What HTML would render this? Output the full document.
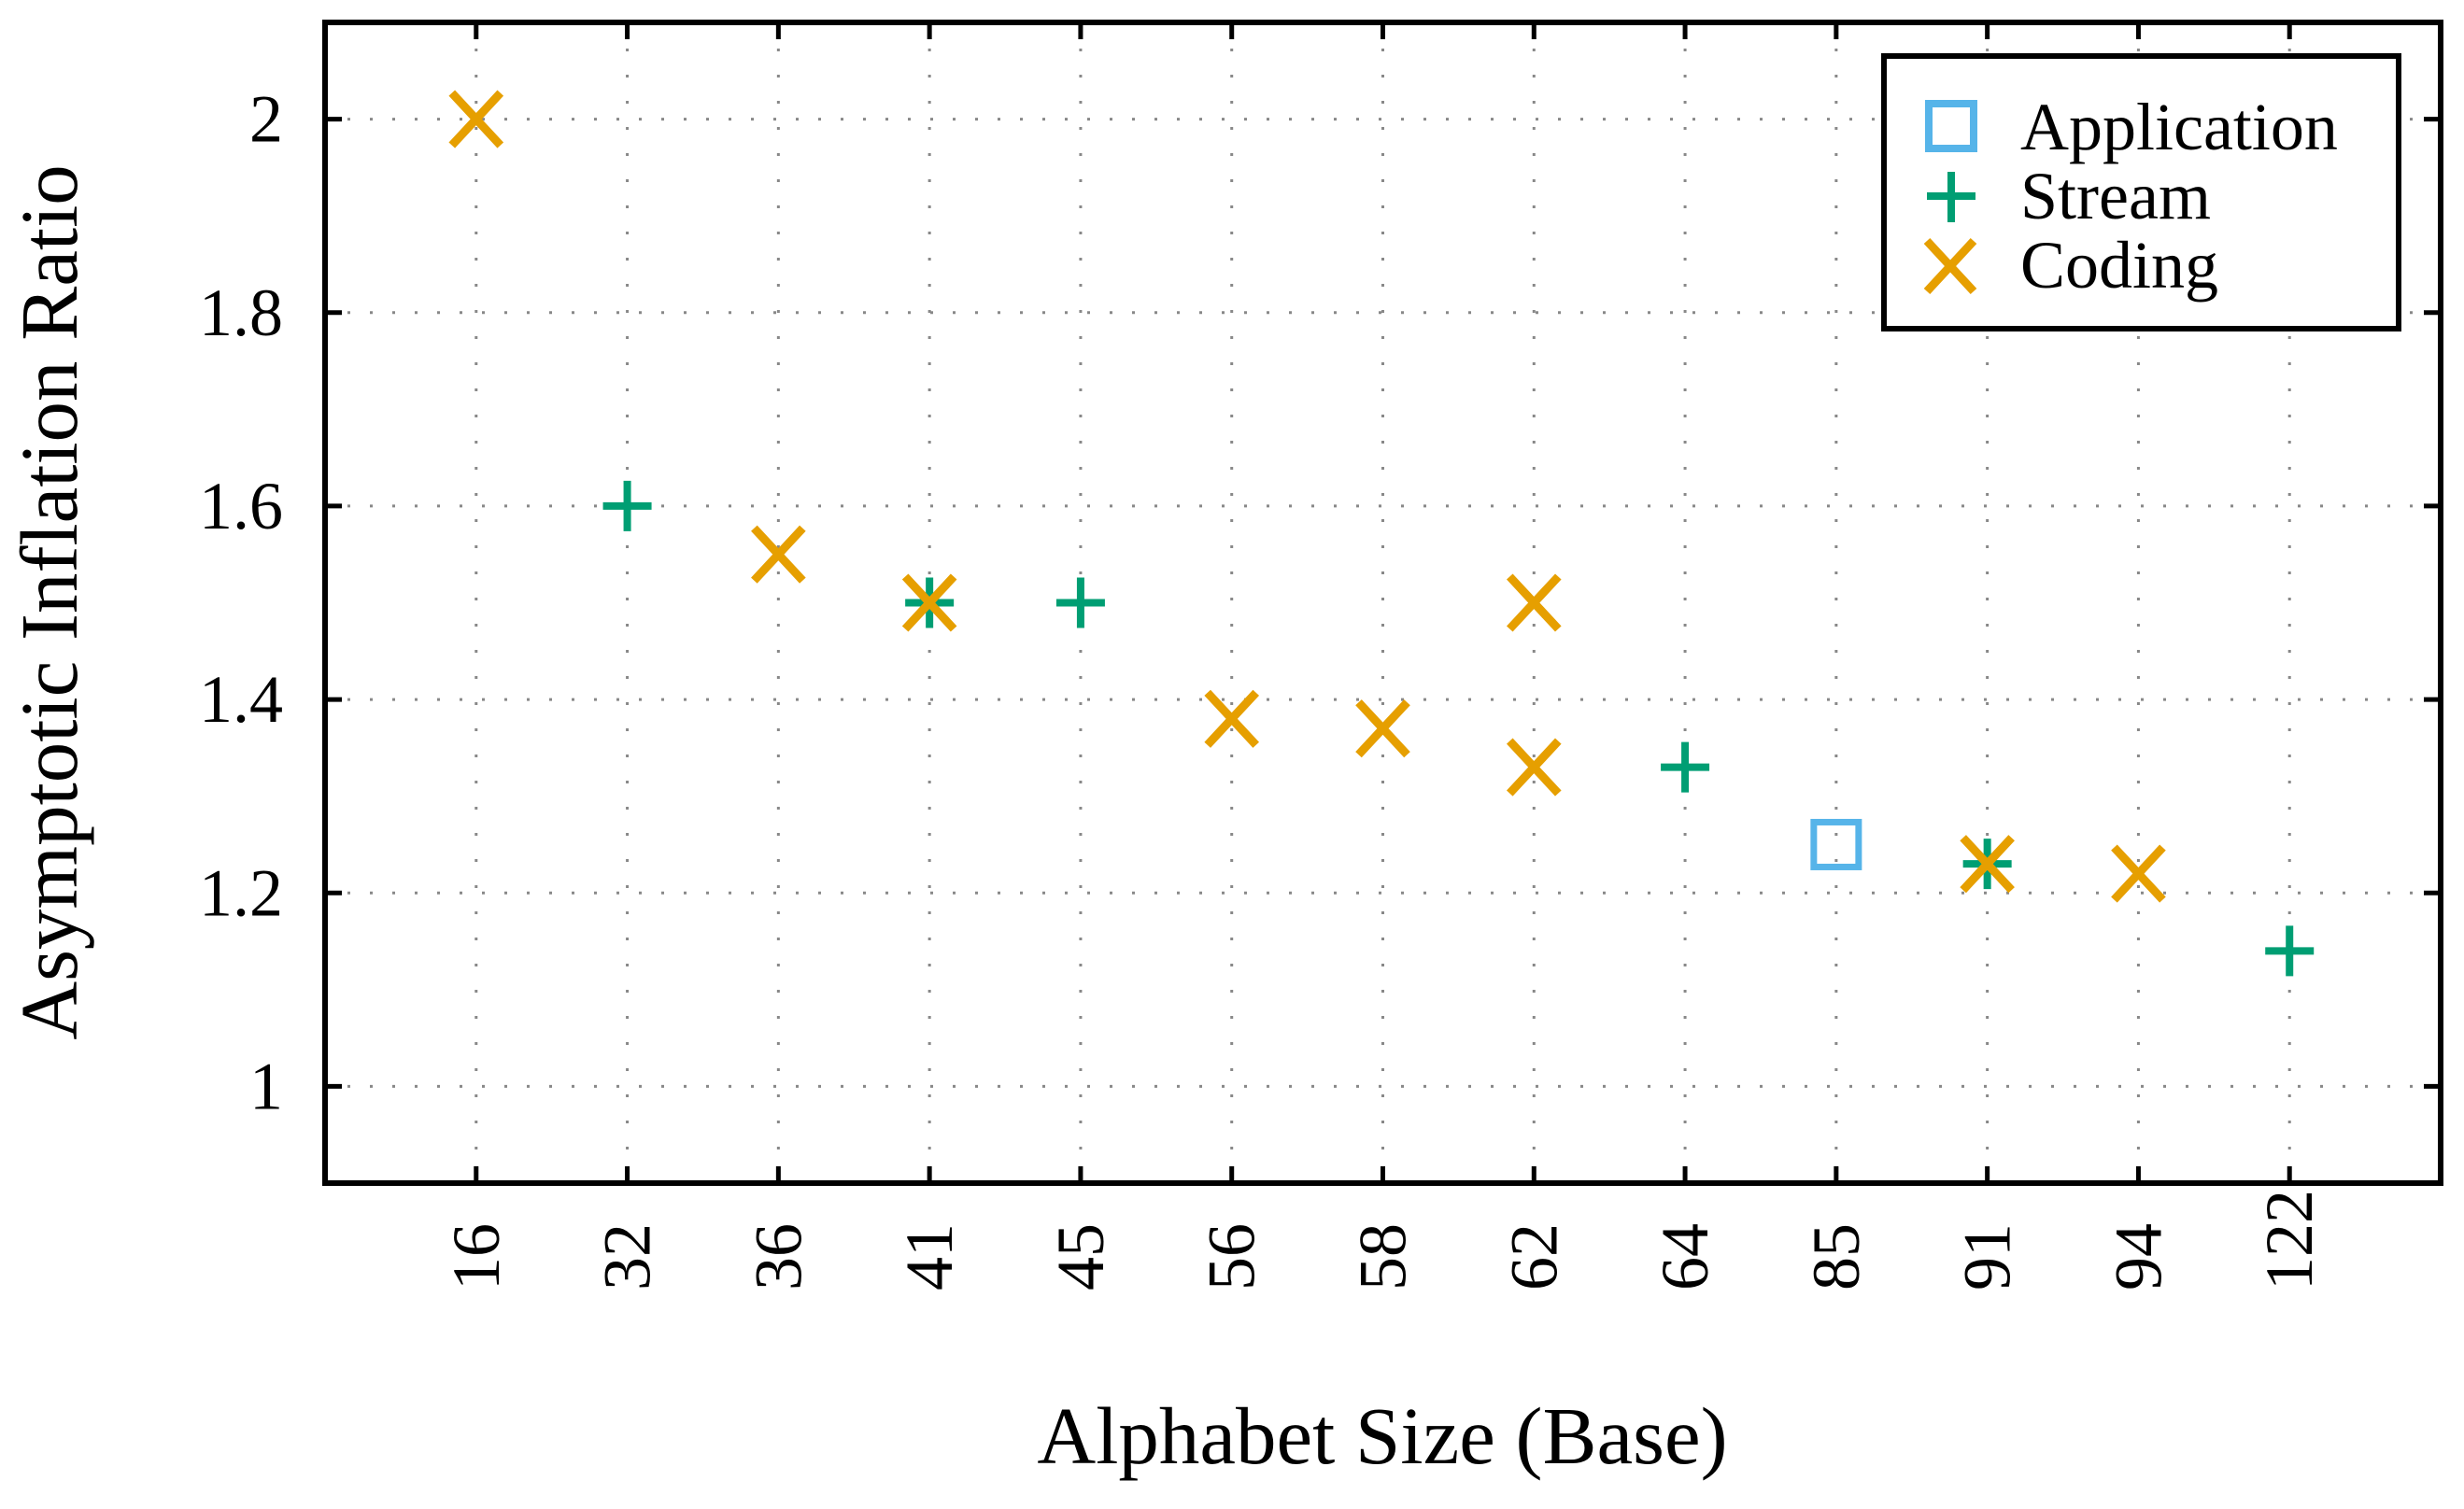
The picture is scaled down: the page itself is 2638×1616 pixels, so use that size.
<!DOCTYPE html>
<html><head><meta charset="utf-8"><style>
html,body{margin:0;padding:0;background:#fff;}
svg text{font-family:"Liberation Serif",serif;fill:#000;}
</style></head><body>
<svg id="chart" width="2638" height="1611" viewBox="0 0 2638 1611" xmlns="http://www.w3.org/2000/svg">
<g id="grid"></g>
<g id="ticks"></g>
<g id="marks"></g>
<rect x="348" y="24" width="2265" height="1243" fill="none" stroke="#000" stroke-width="6"/>
<text x="1480" y="1567" font-size="87" text-anchor="middle">Alphabet Size (Base)</text>
<text transform="translate(82,645) rotate(-90)" font-size="87" text-anchor="middle">Asymptotic Inflation Ratio</text>
<g>
<rect x="2017" y="60" width="551" height="292" fill="#fff" stroke="#000" stroke-width="6"/>
<rect x="2065" y="111" width="48" height="48" fill="none" stroke="#56B4E9" stroke-width="8"/>
<text x="2163" y="160" font-size="72">Application</text>
<path d="M2063 210 H2115 M2089 184 V238" stroke="#009E73" stroke-width="8" fill="none"/>
<text x="2163" y="234" font-size="72">Stream</text>
<path d="M2063 258 L2113 312 M2113 258 L2063 312" stroke="#E69F00" stroke-width="9" fill="none"/>
<text x="2163" y="308" font-size="72">Coding</text>
</g>
</svg>
<script>
const categories = ["16","32","36","41","45","56","58","62","64","85","91","94","122"];
const yTicks = [1, 1.2, 1.4, 1.6, 1.8, 2];
const yTickLabels = ["1","1.2","1.4","1.6","1.8","2"];
const applicationX = ["85"];
const applicationY = [1.25];
const streamX = ["32","41","45","64","91","122"];
const streamY = [1.6, 1.5, 1.5, 1.33, 1.23, 1.14];
const codingX = ["16","36","41","56","58","62","62","91","94"];
const codingY = [2.0, 1.55, 1.5, 1.38, 1.37, 1.5, 1.33, 1.23, 1.22];

const L=348,R=2613,T=24,B=1267;
const xMin=-1, xMax=categories.length;
const yMin=0.9, yMax=2.1;
function xScale(c){const i=categories.indexOf(c);return L+(i-xMin)/(xMax-xMin)*(R-L);}
function yScale(v){return B-(v-yMin)/(yMax-yMin)*(B-T);}
const NS="http://www.w3.org/2000/svg";
function mk(tag,attrs,parent){const e=document.createElementNS(NS,tag);for(const k in attrs)e.setAttribute(k,attrs[k]);parent.appendChild(e);return e;}
const grid=document.getElementById('grid'),ticks=document.getElementById('ticks'),marks=document.getElementById('marks');
categories.forEach(c=>{
  const x=xScale(c);
  const g=mk('line',{x1:x,x2:x,y1:T,y2:B,stroke:'#888','stroke-width':3,'stroke-dasharray':'3 25'},grid);
  
  
  const t=mk('path',{d:`M${x} ${B} V${B-18} M${x} ${T} V${T+18}`,stroke:'#000','stroke-width':5},ticks);
  
  
  const lb=mk('text',{transform:`translate(${x+24},1382) rotate(-90)`,'font-size':72,'text-anchor':'start'},ticks);
  lb.textContent=c;
  
  
});
yTicks.forEach((v,i)=>{
  const y=yScale(v);
  const g=mk('line',{x1:L,x2:R,y1:y,y2:y,stroke:'#888','stroke-width':3,'stroke-dasharray':'3 21'},grid);
  
  
  const t=mk('path',{d:`M${L} ${y} H${L+18} M${R} ${y} H${R-18}`,stroke:'#000','stroke-width':5},ticks);
  
  
  const lb=mk('text',{x:303,y:y+24,'font-size':72,'text-anchor':'end'},ticks);
  lb.textContent=yTickLabels[i];
  
  
});
applicationX.forEach((c,i)=>{
  const x=xScale(c),y=yScale(applicationY[i]);
  const m=mk('rect',{x:x-24,y:y-24,width:48,height:48,fill:'none',stroke:'#56B4E9','stroke-width':7},marks);
  
  
});
streamX.forEach((c,i)=>{
  const x=xScale(c),y=yScale(streamY[i]);
  const m=mk('path',{d:`M${x-26} ${y} H${x+26} M${x} ${y-27} V${y+27}`,stroke:'#009E73','stroke-width':8,fill:'none'},marks);
  
  
});
codingX.forEach((c,i)=>{
  const x=xScale(c),y=yScale(codingY[i]);
  const m=mk('path',{d:`M${x-26} ${y-28} L${x+26} ${y+28} M${x+26} ${y-28} L${x-26} ${y+28}`,stroke:'#E69F00','stroke-width':9,fill:'none'},marks);
  
  
});
</script>
</body></html>
